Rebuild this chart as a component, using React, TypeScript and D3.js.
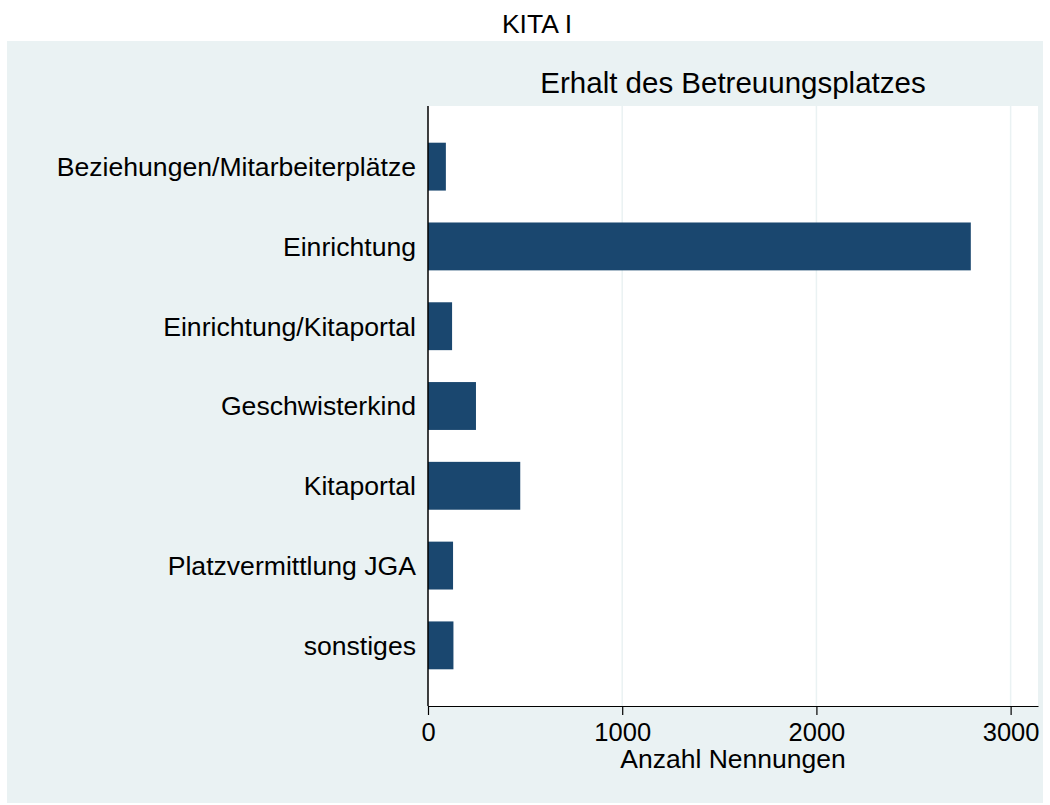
import React, { useEffect, useRef } from 'react';
import * as d3 from 'd3';

const categories = [
    'Beziehungen/Mitarbeiterplätze',
    'Einrichtung',
    'Einrichtung/Kitaportal',
    'Geschwisterkind',
    'Kitaportal',
    'Platzvermittlung JGA',
    'sonstiges',
];
const counts = [92, 2795, 124, 247, 475, 129, 131];
const xTicks = [0, 1000, 2000, 3000];
const xMax = 3141;

const title = 'KITA I';
const subtitle = 'Erhalt des Betreuungsplatzes';
const xTitle = 'Anzahl Nennungen';

const App = () => {
    const svgRef = useRef<SVGSVGElement>(null);

    useEffect(() => {
        const svg = d3.select(svgRef.current);
        svg.selectAll('*').remove();

        const width = 1050;
        const height = 805;
        const plot = { left: 428, right: 1038, top: 106, bottom: 706 };
        const font = '"Liberation Sans", Arial, Helvetica, sans-serif';
        const bg = '#eaf2f3';
        const barColor = '#1a476f';

        // outer panel
        svg.append('rect')
            .attr('x', 7).attr('y', 41)
            .attr('width', 1036).attr('height', 762)
            .attr('fill', bg);

        // plot region
        svg.append('rect')
            .attr('x', plot.left).attr('y', plot.top)
            .attr('width', plot.right - plot.left).attr('height', plot.bottom - plot.top)
            .attr('fill', '#ffffff');

        const x = d3.scaleLinear()
            .domain([0, xMax])
            .range([plot.left, plot.right]);

        const y = d3.scaleBand()
            .domain(categories)
            .range([plot.top, plot.bottom])
            .paddingInner(0.4)
            .paddingOuter(0.46);

        // grid lines
        svg.append('g')
            .selectAll('line')
            .data(xTicks.filter(t => t > 0))
            .join('line')
            .attr('x1', d => x(d)).attr('x2', d => x(d))
            .attr('y1', plot.top).attr('y2', plot.bottom)
            .attr('stroke', bg)
            .attr('stroke-width', 1.5);

        // bars
        svg.append('g')
            .selectAll('rect')
            .data(categories)
            .join('rect')
            .attr('x', x(0))
            .attr('y', d => y(d)!)
            .attr('width', (d, i) => x(counts[i]) - x(0))
            .attr('height', y.bandwidth())
            .attr('fill', barColor);

        // x axis
        const xAxis = svg.append('g')
            .attr('transform', `translate(0,${plot.bottom})`)
            .call(d3.axisBottom(x).tickValues(xTicks).tickFormat(d3.format('d'))
                .tickSize(9).tickPadding(8).tickSizeOuter(0));
        xAxis.select('.domain').attr('stroke', '#000').attr('stroke-width', 1.2);
        xAxis.selectAll('.tick line').attr('stroke', '#000').attr('stroke-width', 1.2);
        xAxis.selectAll('.tick text')
            .attr('fill', '#000')
            .style('font-family', font)
            .style('font-size', '25.5px');

        // y axis line, no ticks
        svg.append('line')
            .attr('x1', plot.left).attr('x2', plot.left)
            .attr('y1', plot.top).attr('y2', plot.bottom)
            .attr('stroke', '#000')
            .attr('stroke-width', 1.5);

        // category labels
        svg.append('g')
            .selectAll('text')
            .data(categories)
            .join('text')
            .attr('x', plot.left - 12)
            .attr('y', d => y(d)! + y.bandwidth() / 2)
            .attr('dy', '0.35em')
            .attr('text-anchor', 'end')
            .style('font-family', font)
            .style('font-size', '26.6px')
            .attr('fill', '#000')
            .text(d => d);

        // titles
        svg.append('text')
            .attr('x', 537)
            .attr('y', 33)
            .attr('text-anchor', 'middle')
            .style('font-family', font)
            .style('font-size', '26.5px')
            .attr('fill', '#000')
            .text(title);

        svg.append('text')
            .attr('x', (plot.left + plot.right) / 2)
            .attr('y', 93)
            .attr('text-anchor', 'middle')
            .style('font-family', font)
            .style('font-size', '29.5px')
            .attr('fill', '#000')
            .text(subtitle);

        svg.append('text')
            .attr('x', (plot.left + plot.right) / 2)
            .attr('y', 768)
            .attr('text-anchor', 'middle')
            .style('font-family', font)
            .style('font-size', '26.5px')
            .attr('fill', '#000')
            .text(xTitle);

        svg.attr('width', width).attr('height', height);
    }, []);

    return (
        <div style={{ position: 'absolute', left: 0, top: 0 }}>
            <svg ref={svgRef} width="1050" height="805" style={{ display: 'block' }}></svg>
        </div>
    );
};

export default App;
